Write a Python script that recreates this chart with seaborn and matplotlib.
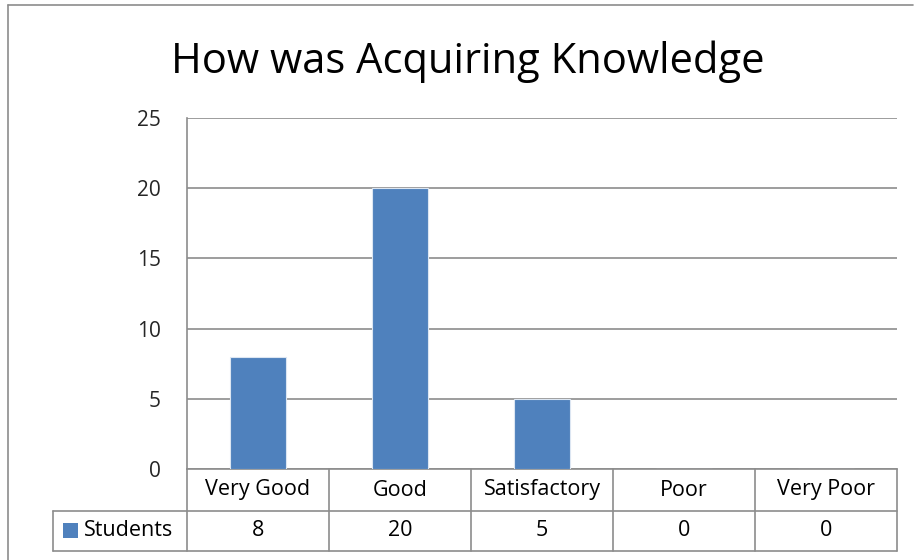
import matplotlib
matplotlib.use("Agg")
import matplotlib.pyplot as plt
import seaborn as sns
import pandas as pd
from matplotlib.lines import Line2D
from matplotlib.patches import Rectangle
import matplotlib.transforms as mtransforms

categories = ["Very Good", "Good", "Satisfactory", "Poor", "Very Poor"]
students = [8, 20, 5, 0, 0]
series_name = "Students"
yticks = [0, 5, 10, 15, 20, 25]
title = "How was Acquiring Knowledge"

df = pd.DataFrame({"category": categories, "value": students})

sns.set_theme(style="white")
plt.rcParams["font.family"] = ["Open Sans", "DejaVu Sans"]

W, H = 914, 560
fig = plt.figure(figsize=(W / 100, H / 100), dpi=100)

def fx(px):
    return px / W

def fy(py):
    return 1 - py / H

L, R, T, B = 187, 897, 118, 469
ax = fig.add_axes([fx(L), fy(B), fx(R) - fx(L), fy(T) - fy(B)])

bar_color = "#4F81BD"
grid_color = "#8C8C8C"
fs = 15.5
sns.barplot(data=df, x="category", y="value", color=bar_color, width=0.4,
            saturation=1, ax=ax, edgecolor="#DCE6F2", linewidth=0.8, zorder=3)

ax.set_xlim(-0.5, len(categories) - 0.5)
ax.set_ylim(0, 25)
ax.set_yticks(yticks)
ax.set_yticklabels([str(v) for v in yticks], fontsize=15)
ax.tick_params(axis="y", length=0, pad=19)
ax.set_xticks([])
ax.set_xlabel("")
ax.set_ylabel("")
ax.yaxis.grid(True, color=grid_color, linewidth=1.2, zorder=0)
ax.set_axisbelow(True)
for side in ["top", "right"]:
    ax.spines[side].set_visible(False)
ax.spines["left"].set_color(grid_color)
ax.spines["left"].set_linewidth(1.2)
ax.spines["bottom"].set_color(grid_color)
ax.spines["bottom"].set_linewidth(1.2)

# Title
fig.text(fx(468), fy(73), title, ha="center", va="baseline", fontsize=30, color="black")

# Data table
lw = 1.2
tf = fig.transFigure
row1_top, row1_bot, row2_bot = 469, 511, 551
leg_left = 53

def hline(x0, x1, y):
    fig.add_artist(Line2D([fx(x0), fx(x1)], [fy(y), fy(y)], transform=tf,
                          color=grid_color, linewidth=lw))

def vline(x, y0, y1):
    fig.add_artist(Line2D([fx(x), fx(x)], [fy(y0), fy(y1)], transform=tf,
                          color=grid_color, linewidth=lw))

hline(leg_left, R, row1_bot)
hline(leg_left, R, row2_bot)
vline(leg_left, row1_bot, row2_bot)
n = len(categories)
for i in range(n + 1):
    x = L + (R - L) * i / n
    vline(x, row1_top, row2_bot)

blend = mtransforms.blended_transform_factory(ax.transData, tf)
for i, (c, v) in enumerate(zip(categories, students)):
    fig.text(i, fy((row1_top + row1_bot) / 2), c, transform=blend,
             ha="center", va="center", fontsize=fs, color="black")
    fig.text(i, fy((row1_bot + row2_bot) / 2), str(v), transform=blend,
             ha="center", va="center", fontsize=fs, color="black")

# legend key in table
ymid = (row1_bot + row2_bot) / 2
fig.add_artist(Rectangle((fx(63), fy(538)), fx(78) - fx(63), fy(523) - fy(538),
                         transform=tf, facecolor=bar_color, edgecolor="none"))
fig.text(fx(84), fy(ymid), series_name, ha="left", va="center", fontsize=fs, color="black")

# outer border (top and left visible)
hline(8, 913, 5)
vline(8, 5, 560)

fig.savefig("out.png", dpi=100)
